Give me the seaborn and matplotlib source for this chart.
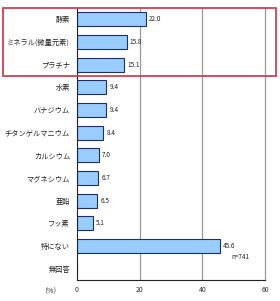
import matplotlib
matplotlib.use("Agg")
import matplotlib.pyplot as plt
import seaborn as sns
import pandas as pd
import numpy as np
from matplotlib.patches import Rectangle

categories = ["酵素", "ミネラル(微量元素)", "プラチナ", "水素", "バナジウム",
              "チタンゲルマニウム", "カルシウム", "マグネシウム", "亜鉛", "フッ素",
              "特にない", "無回答"]
values = [22.0, 15.8, 15.1, 9.4, 9.4, 8.4, 7.0, 6.7, 6.5, 5.1, 45.6, 0.0]
value_labels = ["22.0", "15.8", "15.1", "9.4", "9.4", "8.4", "7.0", "6.7", "6.5", "5.1", "45.6", ""]
x_ticks = [0, 20, 40, 60]

sns.set_theme(style="white")
plt.rcParams['font.family'] = ['Noto Sans CJK JP', 'DejaVu Sans']

df = pd.DataFrame({"cat": categories, "val": values})

fig = plt.figure(figsize=(2.8, 3.01), dpi=100)
ax = fig.add_axes([77/280, 21/301, 188/280, 272/301])
sns.barplot(data=df, y="cat", x="val", orient="h", color="#99CCFF",
            edgecolor="#1F2F5F", linewidth=0.8, width=0.62, ax=ax, saturation=1)

ax.set_xlim(0, 60)
ax.set_ylim(len(categories) - 0.5, -0.5)
ax.set_xticks(x_ticks)
ax.set_xticklabels([str(t) for t in x_ticks], fontsize=5, color="#333333")
ax.tick_params(axis="x", length=0, pad=4)
ax.set_yticks(range(len(categories)))
ax.set_yticklabels(categories, fontsize=5.2, color="#222222")
ax.tick_params(axis="y", which="major", length=0, pad=5)
ax.set_yticks(np.arange(len(categories) - 1) + 0.5, minor=True)
ax.tick_params(axis="y", which="minor", direction="in", length=3, width=0.6, color="#222222")
ax.set_xlabel("")
ax.set_ylabel("")

for t in [20, 40]:
    ax.axvline(t, color="#999999", linewidth=0.9, zorder=0)

ax.spines["top"].set_visible(False)
ax.spines["right"].set_color("#999999")
ax.spines["right"].set_linewidth(0.9)
ax.spines["left"].set_color("#222222")
ax.spines["left"].set_linewidth(0.8)
ax.spines["bottom"].set_color("#222222")
ax.spines["bottom"].set_linewidth(0.8)

for i, (v, lab) in enumerate(zip(values, value_labels)):
    if lab:
        ax.text(v + 1.0, i, lab, va="center", ha="left", fontsize=4.6, color="#222222")

ax.text(0.87, 0.078, "n=741", transform=ax.transAxes, fontsize=4.6, color="#222222", ha="center")
fig.text(50/280, 1 - 291/301, "（%）", fontsize=5, color="#333333", ha="center", va="center")

rect = Rectangle((3/280, 1 - 76/301), 273/280, 68/301, transform=fig.transFigure,
                 fill=False, edgecolor="#D04050", linewidth=1.3)
fig.add_artist(rect)

fig.savefig("out.png", dpi=100)
